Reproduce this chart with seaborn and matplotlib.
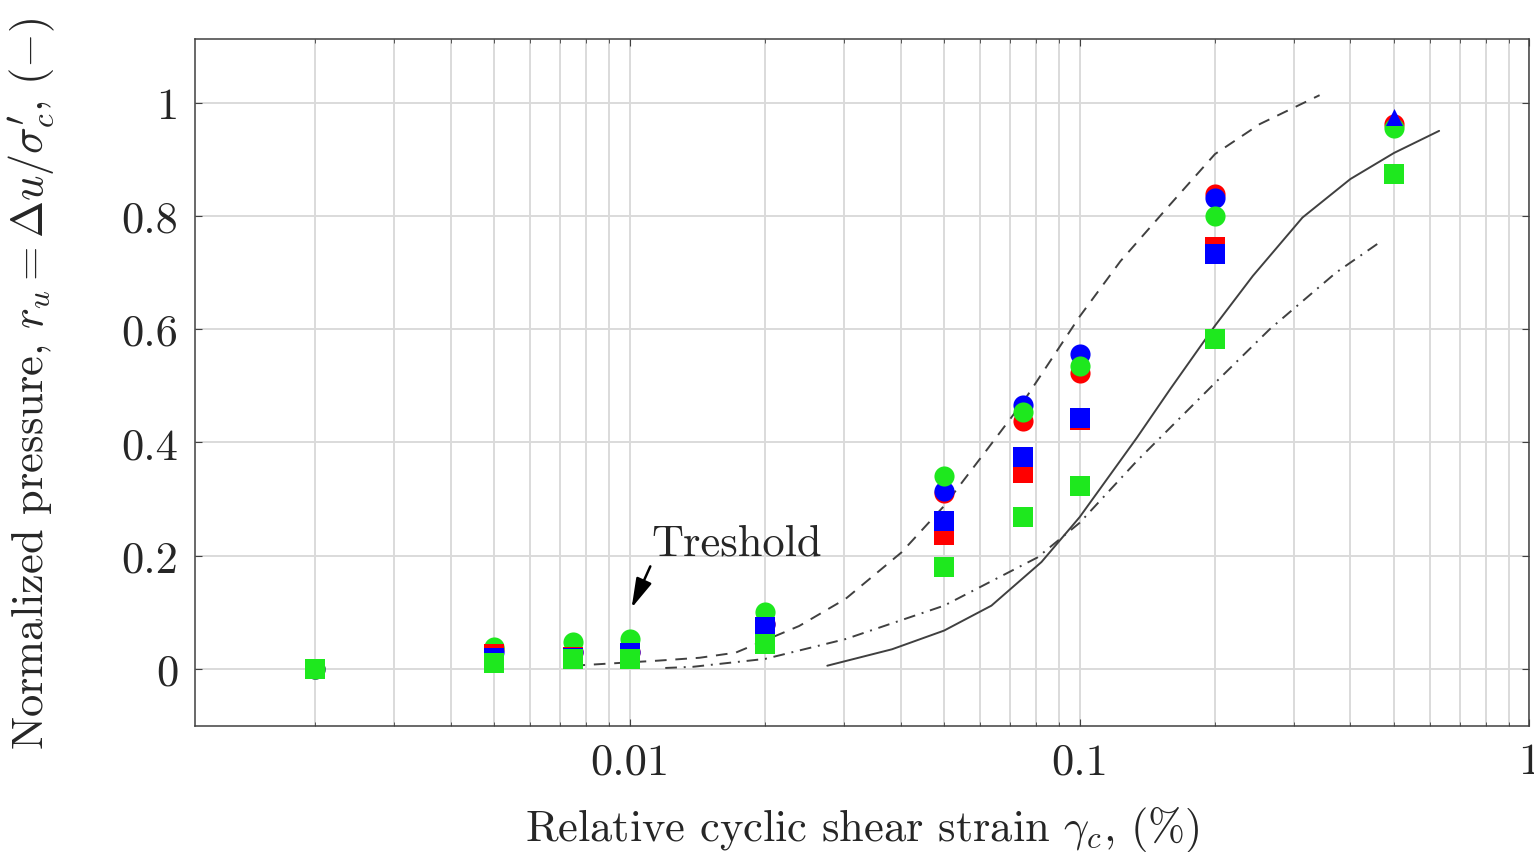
import seaborn as sns
import matplotlib.pyplot as plt
import numpy as np

# measured points (relative cyclic shear strain in %, r_u)
x_strain = [0.002, 0.005, 0.0075, 0.01, 0.02, 0.05, 0.075, 0.1, 0.2, 0.5]
nan = np.nan
red_circle = [0, 0.035, 0.030, 0.030, 0.080, 0.310, 0.438, 0.522, 0.838, 0.962]
blue_circle = [0, 0.030, 0.030, 0.030, 0.080, 0.315, 0.466, 0.556, 0.832, nan]
green_circle = [0, 0.039, 0.048, 0.053, 0.100, 0.341, 0.454, 0.535, 0.800, 0.955]
red_square = [0, 0.026, 0.021, 0.025, 0.070, 0.236, 0.346, 0.440, 0.745, nan]
blue_square = [0, 0.020, 0.019, 0.028, 0.075, 0.262, 0.374, 0.444, 0.732, nan]
green_square = [0, 0.010, 0.017, 0.018, 0.045, 0.180, 0.268, 0.323, 0.582, 0.874]
tri_x = [0.5]
blue_triangle = [0.975]

# reference curves
dash_x = [0.0075, 0.0116, 0.0143, 0.0172, 0.0238, 0.0302, 0.0402, 0.05, 0.0625,
          0.0753, 0.1, 0.1233, 0.159, 0.2, 0.2516, 0.3417]
dash_y = [0.006, 0.015, 0.020, 0.029, 0.076, 0.124, 0.206, 0.288, 0.389,
          0.474, 0.622, 0.720, 0.820, 0.909, 0.962, 1.013]
solid_x = [0.0275, 0.0383, 0.05, 0.0637, 0.0823, 0.1, 0.134, 0.159, 0.2, 0.2428,
           0.313, 0.4, 0.5, 0.63]
solid_y = [0.006, 0.035, 0.068, 0.112, 0.189, 0.268, 0.408, 0.494, 0.606, 0.694,
           0.797, 0.865, 0.911, 0.950]
dashdot_x = [0.012, 0.0138, 0.02, 0.0302, 0.05, 0.0806, 0.1, 0.134, 0.2, 0.2648, 0.3719, 0.47]
dashdot_y = [0.002, 0.004, 0.018, 0.053, 0.112, 0.197, 0.258, 0.367, 0.505, 0.600, 0.700, 0.756]

sns.set_style('ticks')
plt.rcParams.update({
    'font.family': 'serif',
    'font.serif': ['cmr10', 'DejaVu Serif'],
    'mathtext.fontset': 'cm',
    'axes.formatter.use_mathtext': True,
    'font.size': 32,
})

RED, BLUE, GREEN = '#ff0000', '#0000ff', '#1ee81e'
LINE = '#404040'
FS = 32

fig = plt.figure(figsize=(15.34, 8.53), dpi=100)
ax = fig.add_axes([0.127, 0.148, 0.870, 0.805])
ax.set_xscale('log')

sns.lineplot(x=dash_x, y=dash_y, ax=ax, color=LINE, lw=1.4,
             linestyle=(0, (6, 4.5)), sort=False, estimator=None)
sns.lineplot(x=solid_x, y=solid_y, ax=ax, color=LINE, lw=1.4, sort=False, estimator=None)
sns.lineplot(x=dashdot_x, y=dashdot_y, ax=ax, color=LINE, lw=1.4,
             linestyle=(0, (6, 3.5, 1, 3.5)), sort=False, estimator=None)

for vals, col in [(red_circle, RED), (blue_circle, BLUE), (green_circle, GREEN)]:
    sns.scatterplot(x=x_strain, y=vals, ax=ax, color=col, marker='o', s=210, linewidth=0, zorder=3)
for vals, col in [(red_square, RED), (blue_square, BLUE), (green_square, GREEN)]:
    sns.scatterplot(x=x_strain, y=vals, ax=ax, color=col, marker='s', s=190, linewidth=0, zorder=4)
sns.scatterplot(x=tri_x, y=blue_triangle, ax=ax, color=BLUE, marker='^', s=150, linewidth=0, zorder=5)

ax.annotate('Treshold', xy=(0.0101, 0.108), xytext=(0.0112, 0.203),
            ha='left', va='baseline', fontsize=FS,
            arrowprops=dict(arrowstyle='-|>,head_length=0.9,head_width=0.25', color='black',
                            lw=1.8, mutation_scale=20, shrinkA=0, shrinkB=0,
                            relpos=(0.0, 0.0)))

ax.set_xlim(0.00108, 1.0)
ax.set_ylim(-0.1, 1.112)
ax.set_xticks([0.01, 0.1, 1])
ax.set_xticklabels(['0.01', '0.1', '1'])
ax.set_yticks([0, 0.2, 0.4, 0.6, 0.8, 1])
ax.set_yticklabels(['0', '0.2', '0.4', '0.6', '0.8', '1'])

ax.grid(True, which='both', axis='x', color='#dadada', lw=1.4)
ax.grid(True, which='major', axis='y', color='#dadada', lw=1.4)
ax.set_axisbelow(True)
ax.tick_params(which='both', direction='in', top=True, right=True, color=LINE, labelsize=FS)
ax.tick_params(axis='x', pad=12)
ax.tick_params(axis='y', pad=12)
ax.tick_params(which='major', length=5)
ax.tick_params(which='minor', length=3)
for s in ax.spines.values():
    s.set_color(LINE)
    s.set_linewidth(1.1)

ax.set_xlabel(r'Relative cyclic shear strain $\gamma_c$, (%)', fontsize=FS)
ax.set_ylabel(r"Normalized pressure, $r_u = \Delta u/\sigma^{\prime}_c$, $(-)$", fontsize=FS)
ax.xaxis.set_label_coords(0.5, -0.114)
ax.yaxis.set_label_coords(-0.103, 0.5)

fig.savefig('out.png', dpi=100)
